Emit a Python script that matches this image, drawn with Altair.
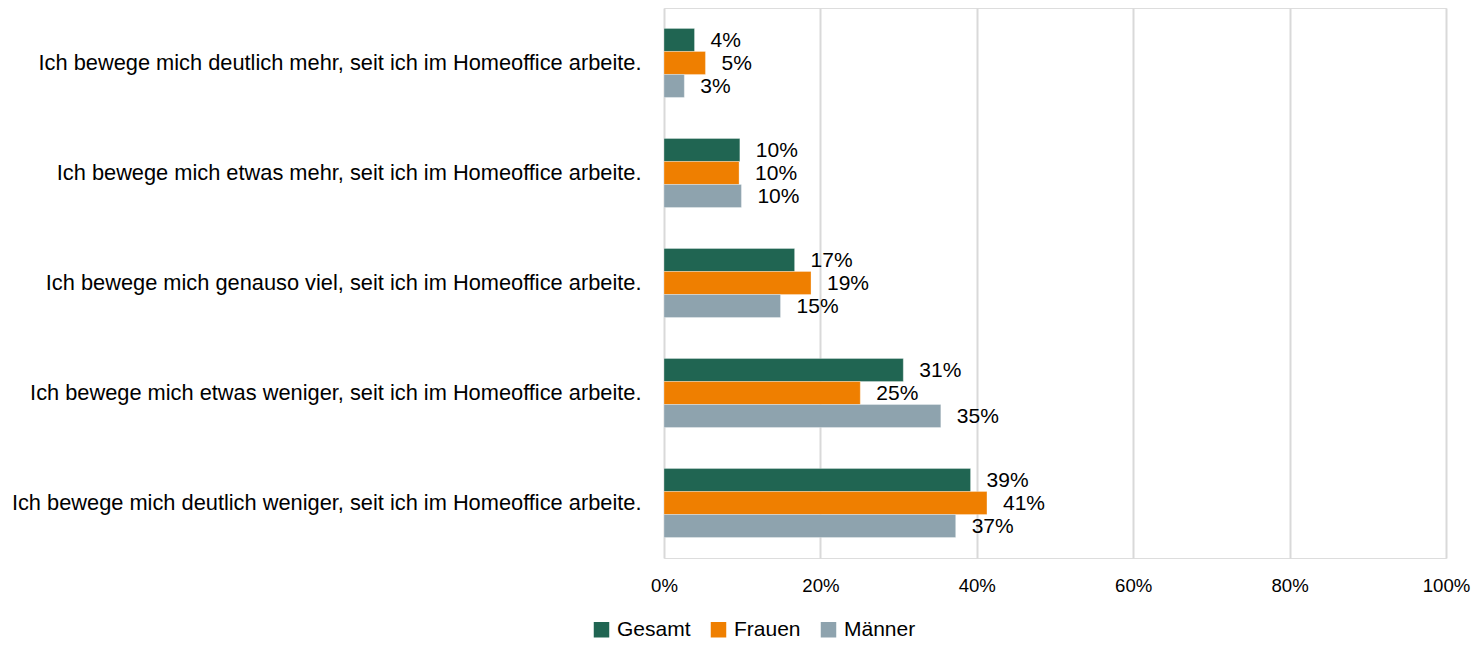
import altair as alt
import pandas as pd

categories = [
    "Ich bewege mich deutlich mehr, seit ich im Homeoffice arbeite.",
    "Ich bewege mich etwas mehr, seit ich im Homeoffice arbeite.",
    "Ich bewege mich genauso viel, seit ich im Homeoffice arbeite.",
    "Ich bewege mich etwas weniger, seit ich im Homeoffice arbeite.",
    "Ich bewege mich deutlich weniger, seit ich im Homeoffice arbeite.",
]
series = ["Gesamt", "Frauen", "Männer"]
gesamt = [0.039, 0.097, 0.167, 0.306, 0.392]
frauen = [0.053, 0.096, 0.188, 0.251, 0.413]
maenner = [0.026, 0.099, 0.149, 0.354, 0.373]
colors = ["#206552", "#EF7F00", "#8EA3AE"]
x_ticks = [0, 0.2, 0.4, 0.6, 0.8, 1.0]

rows = []
for name, vals in zip(series, [gesamt, frauen, maenner]):
    for cat, v in zip(categories, vals):
        rows.append({"Kategorie": cat, "Gruppe": name, "Wert": v})
df = pd.DataFrame(rows)

FONT = "Liberation Sans, Arial, sans-serif"

y_enc = alt.Y(
    "Kategorie:N",
    sort=categories,
    scale=alt.Scale(paddingInner=0.373, paddingOuter=0.186),
    axis=alt.Axis(
        title=None, domain=False, ticks=False, grid=False,
        labelPadding=23, labelFontSize=21.8, labelLimit=1200,
        labelColor="#000000", labelFont=FONT,
    ),
)
yoff = alt.YOffset("Gruppe:N", sort=series, scale=alt.Scale(paddingInner=0, paddingOuter=0))
x_enc = alt.X(
    "Wert:Q",
    scale=alt.Scale(domain=[0, 1], nice=False),
    axis=alt.Axis(
        title=None, values=x_ticks, format=".0%", domain=False, ticks=False,
        grid=True, gridColor="#D9D9D9", gridWidth=2, labelFlush=False,
        labelFontSize=18.6, labelPadding=18, labelColor="#000000", labelFont=FONT,
    ),
)
color_enc = alt.Color(
    "Gruppe:N",
    sort=series,
    scale=alt.Scale(domain=series, range=colors),
    legend=alt.Legend(
        title=None, orient="none", direction="horizontal",
        legendX=-73, legendY=611,
        symbolType="square", symbolSize=240, symbolStrokeWidth=0,
        labelFontSize=21, labelFont=FONT, labelColor="#000000",
        labelOffset=5, columnPadding=17,
    ),
)

bars = alt.Chart(df).mark_bar(stroke="#ffffff", strokeWidth=0.6, strokeOpacity=0.5).encode(
    x=x_enc, y=y_enc, yOffset=yoff, color=color_enc,
)
labels = alt.Chart(df).mark_text(
    align="left", baseline="middle", dx=16, dy=1, fontSize=21, font=FONT, color="#000000"
).encode(
    x=alt.X("Wert:Q"), y=alt.Y("Kategorie:N", sort=categories), yOffset=alt.YOffset("Gruppe:N", sort=series),
    text=alt.Text("Wert:Q", format=".0%"),
)

chart = alt.layer(bars, labels).properties(
    width=782, height=550,
    autosize=alt.AutoSizeParams(type="none"),
    padding={"left": 656, "top": 0, "right": 25, "bottom": 83},
).configure_view(stroke=None).configure(background="#ffffff")

chart.save("out.html", embed_options={"renderer": "svg", "actions": False})
